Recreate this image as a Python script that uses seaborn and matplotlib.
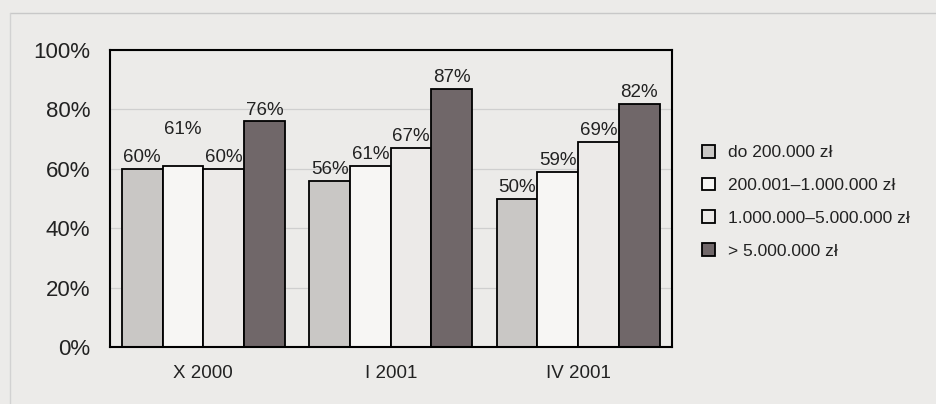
import pandas as pd
import seaborn as sns
import matplotlib
matplotlib.use("Agg")
from matplotlib import pyplot as plt
from matplotlib.patches import Patch
from matplotlib.lines import Line2D

# Data
periods = ['X 2000', 'I 2001', 'IV 2001']
groups = ['do 200.000 zł', '200.001–1.000.000 zł', '1.000.000–5.000.000 zł', '> 5.000.000 zł']
values_do200k = [60, 56, 50]
values_200k_1m = [61, 61, 59]
values_1m_5m = [60, 67, 69]
values_over5m = [76, 87, 82]

colors = ['#c9c7c5', '#f7f6f4', '#eceae8', '#706769']
bg = '#ecebe9'

rows = []
for grp, vals in zip(groups, [values_do200k, values_200k_1m, values_1m_5m, values_over5m]):
    for per, v in zip(periods, vals):
        rows.append({'period': per, 'group': grp, 'value': v})
frame = pd.DataFrame(rows)

sns.set_style("white")
plt.rcParams['font.family'] = ['Liberation Sans', 'DejaVu Sans']

fig = plt.figure(figsize=(9.37, 4.04), dpi=100)
fig.patch.set_facecolor(bg)

# faint outer frame of the scanned box
fig.add_artist(Line2D([0.011, 1.0], [0.968, 0.968], color='#c8c8c8', linewidth=1.0))
fig.add_artist(Line2D([0.011, 0.011], [0.0, 0.968], color='#d2d2d2', linewidth=1.0))

ax = fig.add_axes([0.117, 0.141, 0.600, 0.735])
ax.set_facecolor(bg)

sns.barplot(data=frame, x='period', y='value', hue='group', hue_order=groups,
            order=periods, palette=colors, edgecolor='black', linewidth=1.3,
            width=0.87, gap=0, saturation=1, legend=False, ax=ax)

for i, cont in enumerate(ax.containers):
    labels = ax.bar_label(cont, fmt='%d%%', padding=2, fontsize=13.5, color='#222222')
    if i == 1:
        # Excel lifted this one label to keep it clear of its neighbours
        labels[0].xyann = (0, 20)

ax.set_ylim(0, 100)
ax.set_yticks([0, 20, 40, 60, 80, 100])
ax.set_yticklabels([f'{t}%' for t in [0, 20, 40, 60, 80, 100]], fontsize=16, color='#222222')
ax.tick_params(axis='y', length=0, pad=14)
ax.tick_params(axis='x', length=0, pad=13, labelsize=13.5, labelcolor='#222222')
ax.yaxis.grid(True, color='#cfcfcf', linewidth=0.9)
ax.set_axisbelow(True)
ax.set_xlabel('')
ax.set_ylabel('')
for s in ax.spines.values():
    s.set_color('black')
    s.set_linewidth(1.5)

handles = [Patch(facecolor=c, edgecolor='black', linewidth=1.3) for c in colors]
leg = fig.legend(handles, groups, loc='upper left', bbox_to_anchor=(0.732, 0.68),
                 frameon=False, fontsize=12.5, handlelength=0.75, handleheight=0.75,
                 labelspacing=1.0, handletextpad=0.8)
for t in leg.get_texts():
    t.set_color('#222222')

fig.savefig('out.png', dpi=100, facecolor=bg)
